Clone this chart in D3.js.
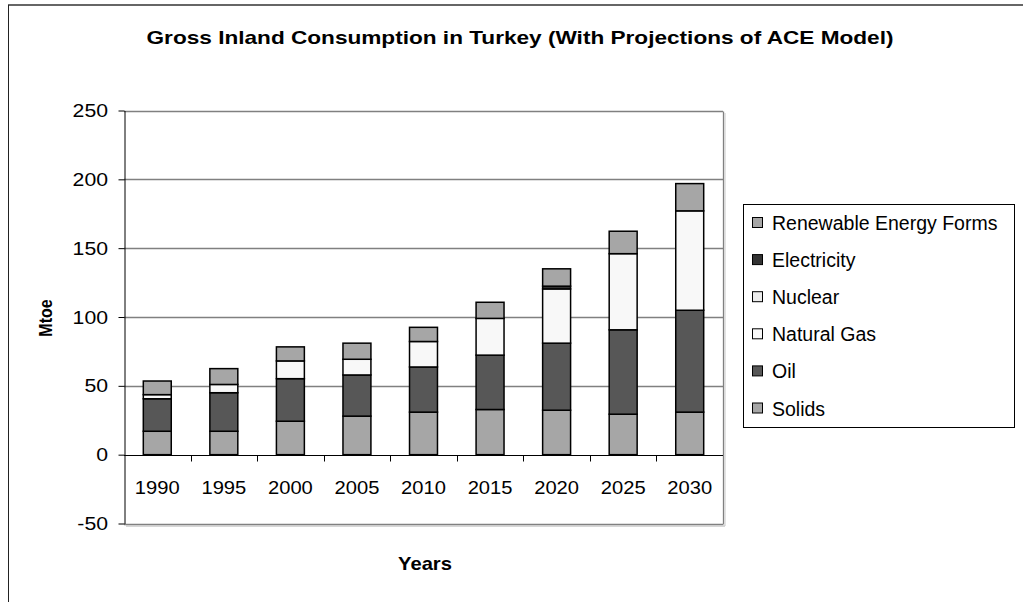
<!DOCTYPE html>
<html>
<head>
<meta charset="utf-8">
<script src="https://cdn.jsdelivr.net/npm/d3@7"></script>
<style>
  html, body { margin: 0; padding: 0; background: #fff; }
  svg { display: block; font-family: "Liberation Sans", Arial, sans-serif; }
</style>
</head>
<body>
<svg id="chart" width="1023" height="602"></svg>
<script>
// Gross inland consumption by fuel (Mtoe)
const years = ["1990", "1995", "2000", "2005", "2010", "2015", "2020", "2025", "2030"];
const solids      = [17.0, 17.0, 24.3, 28.0, 30.9, 32.8, 32.3, 29.4, 30.9];
const oil         = [23.6, 28.0, 30.9, 29.9, 32.8, 39.5, 48.7, 61.3, 74.0];
const naturalGas  = [3.0, 6.0, 12.9, 11.4, 18.5, 26.7, 39.4, 55.3, 72.2];
const nuclear     = [0, 0, 0, 0, 0, 0, 0, 0, 0];
const electricity = [0, 0, 0, 0, 0, 0, 2.0, 0, 0];
const renewables  = [9.9, 11.5, 10.2, 11.7, 10.3, 11.7, 12.6, 16.3, 19.8];
const yTicks = [-50, 0, 50, 100, 150, 200, 250];

const seriesNames = ["Solids", "Oil", "Natural Gas", "Nuclear", "Electricity", "Renewable Energy Forms"];
const seriesColors = ["#a6a6a6", "#575757", "#f8f8f8", "#ececec", "#333333", "#a6a6a6"];
const seriesValues = [solids, oil, naturalGas, nuclear, electricity, renewables];

const rows = years.map((yr, i) => {
  const r = { year: yr };
  seriesNames.forEach((n, k) => { r[n] = seriesValues[k][i]; });
  return r;
});

const svg = d3.select("#chart");

// text drawn with a horizontal stretch around its anchor point
function wideText(parent, tx, ty, sx, text, opts) {
  const g = parent.append("g").attr("transform", `translate(${tx},${ty}) scale(${sx},1)`);
  const t = g.append("text")
    .attr("text-anchor", opts.anchor || "middle")
    .attr("font-size", opts.size)
    .attr("font-weight", opts.weight || "normal")
    .attr("fill", "#000")
    .text(text);
  if (opts.rotate) t.attr("transform", `rotate(${opts.rotate})`);
  return t;
}

// outer chart frame (top and left edges)
svg.append("line").attr("x1", 8).attr("x2", 1023).attr("y1", 5).attr("y2", 5)
  .attr("stroke", "#333").attr("stroke-width", 1.6);
svg.append("line").attr("x1", 8.5).attr("x2", 8.5).attr("y1", 5).attr("y2", 602)
  .attr("stroke", "#222").attr("stroke-width", 1);

const left = 124, right = 723;
const x = d3.scaleBand().domain(years).range([left, right])
  .paddingInner(0.58).paddingOuter(0.29);
const y = d3.scaleLinear().domain([-50, 250]).range([523.5, 110.5]);

// gridlines
svg.append("g").selectAll("line").data(yTicks.filter(t => t !== 0))
  .join("line")
  .attr("x1", left).attr("x2", right)
  .attr("y1", d => Math.round(y(d)) + 0.5).attr("y2", d => Math.round(y(d)) + 0.5)
  .attr("stroke", "#808080").attr("stroke-width", 1.3);
// plot area right edge and bottom shadow
svg.append("line").attr("x1", right + 0.5).attr("x2", right + 0.5)
  .attr("y1", Math.round(y(250)) + 0.5).attr("y2", Math.round(y(-50)) + 0.5)
  .attr("stroke", "#808080").attr("stroke-width", 1.3);
svg.append("line").attr("x1", left + 2).attr("x2", right + 2)
  .attr("y1", Math.round(y(-50)) + 2).attr("y2", Math.round(y(-50)) + 2)
  .attr("stroke", "#c8c8c8").attr("stroke-width", 1.5);
svg.append("line").attr("x1", right + 2).attr("x2", right + 2)
  .attr("y1", Math.round(y(250)) + 2).attr("y2", Math.round(y(-50)) + 2)
  .attr("stroke", "#d0d0d0").attr("stroke-width", 1.2);

// stacked bars
const stack = d3.stack().keys(seriesNames);
const layers = stack(rows);
svg.append("g").selectAll("g").data(layers).join("g")
  .attr("fill", (d, i) => seriesColors[i])
  .selectAll("rect").data(d => d.filter(p => p[1] - p[0] > 0))
  .join("rect")
  .attr("x", d => x(d.data.year))
  .attr("width", x.bandwidth())
  .attr("y", d => y(d[1]))
  .attr("height", d => y(d[0]) - y(d[1]))
  .attr("stroke", "#000").attr("stroke-width", 1.5);

// y axis (labels drawn separately so they can be stretched)
const yAxis = svg.append("g").attr("transform", `translate(${left + 0.5},0)`)
  .call(d3.axisLeft(y).tickValues(yTicks).tickFormat("").tickSize(6).tickSizeOuter(0));
yAxis.select(".domain").attr("stroke", "#000");
yAxis.selectAll(".tick line").attr("stroke", "#000");
const yLabels = svg.append("g");
yTicks.forEach(t => {
  wideText(yLabels, 108, y(t) + 6.5, 1.18, String(t), { size: 18, anchor: "end" });
});

// x axis at zero, ticks on band boundaries
const xAxisG = svg.append("g").attr("transform", `translate(0,${Math.round(y(0)) + 0.5})`);
xAxisG.append("line").attr("x1", left).attr("x2", right).attr("stroke", "#000");
const step = x.step();
xAxisG.selectAll("line.tk").data(d3.range(1, years.length)).join("line")
  .attr("class", "tk")
  .attr("x1", i => Math.round(left + i * step) + 0.5).attr("x2", i => Math.round(left + i * step) + 0.5)
  .attr("y1", 0).attr("y2", 6).attr("stroke", "#000");
const xLabels = svg.append("g");
years.forEach(yr => {
  wideText(xLabels, x(yr) + x.bandwidth() / 2, y(0) + 39, 1.12, yr, { size: 18 });
});

// titles
wideText(svg, 520, 44, 1.19, "Gross Inland Consumption in Turkey (With Projections of ACE Model)",
  { size: 19, weight: "bold" });
wideText(svg, 425, 570, 1.12, "Years", { size: 18, weight: "bold" });
wideText(svg, 52, 318, 1.15, "Mtoe", { size: 16, weight: "bold", rotate: -90 });

// legend
const legend = svg.append("g");
legend.append("rect").attr("x", 743.5).attr("y", 204.5).attr("width", 271).attr("height", 223)
  .attr("fill", "#fff").attr("stroke", "#000").attr("stroke-width", 1);
const legendOrder = d3.range(seriesNames.length).reverse();
const items = legend.selectAll("g.item").data(legendOrder).join("g")
  .attr("class", "item")
  .attr("transform", (d, i) => `translate(752,${223 + i * 37.1})`);
items.append("rect").attr("x", 0.5).attr("y", -5.5).attr("width", 10).attr("height", 10)
  .attr("fill", d => seriesColors[d]).attr("stroke", "#000").attr("stroke-width", 1);
items.append("text").attr("x", 20).attr("y", 7).attr("font-size", 19.5)
  .text(d => seriesNames[d]);
</script>
</body>
</html>
